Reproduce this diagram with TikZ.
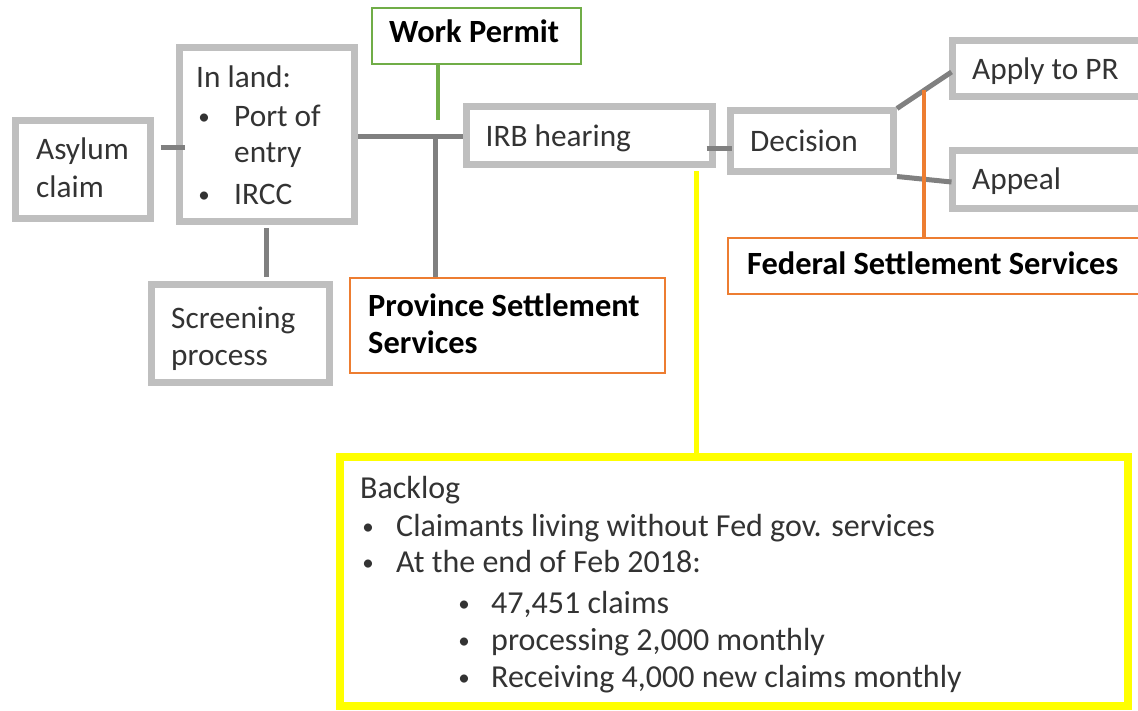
\documentclass[tikz,border=0pt]{standalone}
\usepackage{fontspec}
\setmainfont{Carlito}
\usetikzlibrary{calc}
\definecolor{boxgrey}{HTML}{BFBFBF}
\definecolor{linkgrey}{HTML}{808080}
\definecolor{permitgreen}{HTML}{70AD47}
\definecolor{serviceorange}{HTML}{ED7D31}
\definecolor{backlogyellow}{HTML}{FFFF00}
\definecolor{bodytext}{HTML}{333333}

\begin{document}
\begin{tikzpicture}[x=1pt,y=-1pt,
  greybox/.style={draw=boxgrey,line width=7pt,fill=white,inner sep=0pt,rectangle},
  thinbox/.style={line width=2pt,fill=white,inner sep=0pt,rectangle},
  link/.style={draw=linkgrey,line width=5pt},
  plaintext/.style={inner sep=0pt,anchor=base west,text=bodytext,font=\fontsize{31.3}{37}\selectfont},
  listtext/.style={inner sep=0pt,anchor=base west,text=bodytext,font=\fontsize{32}{37}\selectfont},
  boldtext/.style={inner sep=0pt,anchor=base west,text=black,font=\fontsize{32.4}{37}\selectfont\bfseries},
  bulletdot/.style={inner sep=0pt,anchor=base,yshift=2pt,text=bodytext,font=\fontsize{23}{23}\selectfont},
]
\useasboundingbox (0,0) rectangle (1138,711);
\clip (0,0) rectangle (1138,711);

% process boxes
\node[greybox,minimum width=135pt,minimum height=98pt]  (asylum)    at (83,169.5)    {};
\node[greybox,minimum width=175pt,minimum height=174pt] (inland)    at (267,134.5)   {};
\node[greybox,minimum width=178pt,minimum height=98pt]  (screening) at (240.5,333.5) {};
\node[greybox,minimum width=246pt,minimum height=58pt]  (irb)       at (589.5,135.5) {};
\node[greybox,minimum width=163pt,minimum height=61pt]  (decision)  at (812,141)     {};
\node[greybox,minimum width=207.5pt,minimum height=56pt] (apply)    at (1056.25,68.5)  {};
\node[greybox,minimum width=207.5pt,minimum height=58pt] (appeal)   at (1056.25,179.5) {};

% service boxes
\node[thinbox,draw=permitgreen,minimum width=209.5pt,minimum height=56.5pt]   (permit)   at (476.5,36)    {};
\node[thinbox,draw=serviceorange,minimum width=315.5pt,minimum height=95.5pt] (province) at (507.5,325.5) {};
\node[thinbox,draw=serviceorange,minimum width=432.25pt,minimum height=56.5pt] (federal) at (943.9,266)   {};

% backlog box
\node[draw=backlogyellow,line width=8pt,fill=white,inner sep=0pt,minimum width=788pt,minimum height=249pt] (backlog) at (734,581.5) {};

% connectors
\coordinate (ja) at (0,148);
\coordinate (jb) at (435,137);
\coordinate (jc) at (438,120);
\coordinate (jd) at (0,149);
\coordinate (je) at (696,0);

\draw[link] ($(asylum.east |- ja)+(6.5,0)$) -- ($(inland.west |- ja)+(8.5,0)$);
\draw[link] (inland.east |- jb) -- (irb.west |- jb);
\draw[link] ($(inland.south)+(-1,3.5)$) -- ($(screening.north -| inland.south)+(-1,-3.5)$);
\draw[link] (jb) -- (province.north -| jb);
\draw[permitgreen,line width=4pt] (permit.south -| jc) -- (jc);
\draw[link] ($(irb.east |- jd)+(-9.5,0)$) -- ($(decision.west |- jd)+(4.5,0)$);
\draw[backlogyellow,line width=5pt] ($(irb.south -| je)+(0,3.5)$) -- (backlog.north -| je);

\coordinate (da) at ($(decision.north east)+(0,1.5)$);
\coordinate (db) at ($(apply.west)+(2.5,3.5)$);
\draw[link] (da) -- (db);
\draw[link] ($(decision.south east)+(0,1.5)$) -- ($(appeal.west)+(2.5,2.5)$);
\coordinate (fo) at ($(da)!0.5!(db)$);
\draw[serviceorange,line width=4pt] (fo) -- (federal.north -| fo);

% box texts
\node[plaintext] (tasy1) at (36,160) {Asylum};
\node[plaintext] (tasy2) at (36,198) {claim};

\node[plaintext] (tin0) at (196,88) {In land:};
\node[bulletdot] (bin1) at (204,127) {•};
\node[plaintext] (tin1) at (234,127) {Port of};
\node[plaintext] (tin2) at (234,163) {entry};
\node[bulletdot] (bin3) at (204,205) {•};
\node[plaintext] (tin3) at (234,205) {IRCC};

\node[plaintext] (tscr1) at (171,329) {Screening};
\node[plaintext] (tscr2) at (171,365) {process};

\node[plaintext] (tirb) at (485.5,147) {IRB hearing};
\node[plaintext] (tdec) at (750,152) {Decision};
\node[plaintext] (tapp) at (972,80) {Apply to PR};
\node[plaintext] (tapl) at (972,190) {Appeal};

\node[boldtext] (tper) at (389,43) {Work Permit};
\node[boldtext] (tpro1) at (368,317) {Province Settlement};
\node[boldtext] (tpro2) at (368,353) {Services};
\node[boldtext] (tfed) at (747,275) {Federal Settlement Services};

% backlog texts
\node[listtext] (tbl0) at (360,498) {Backlog};
\node[bulletdot] (bbl1) at (368,536) {•};
\node[listtext] (tbl1) at (396,536) {Claimants living without Fed gov. services};
\node[bulletdot] (bbl2) at (368,572) {•};
\node[listtext] (tbl2) at (396,572) {At the end of Feb 2018:};
\node[bulletdot] (bbl3) at (464,613) {•};
\node[listtext] (tbl3) at (491,613) {47,451 claims};
\node[bulletdot] (bbl4) at (464,650) {•};
\node[listtext] (tbl4) at (491,650) {processing 2,000 monthly};
\node[bulletdot] (bbl5) at (464,687) {•};
\node[listtext] (tbl5) at (491,687) {Receiving 4,000 new claims monthly};
\end{tikzpicture}
\end{document}
